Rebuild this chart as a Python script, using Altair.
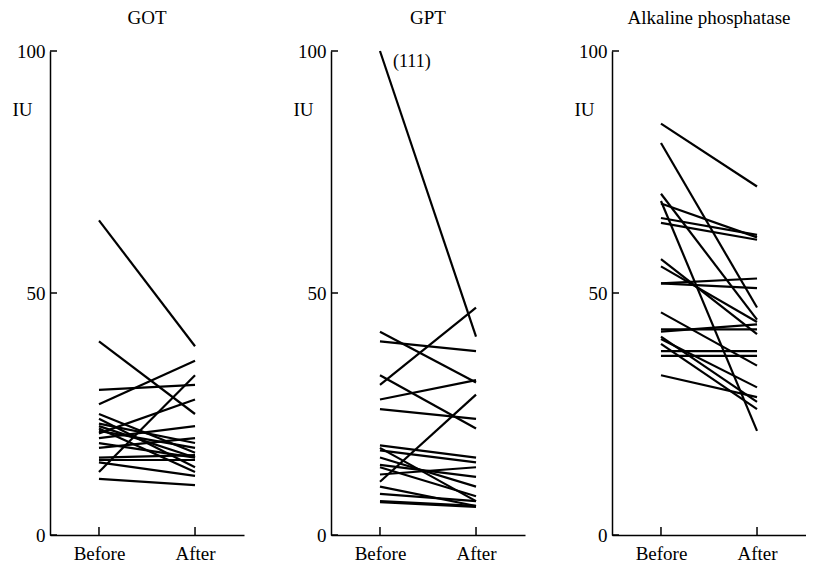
import altair as alt
import pandas as pd

categories = ["Before", "After"]
panel_titles = ["GOT", "GPT", "Alkaline phosphatase"]
y_ticks = [0, 50, 100]

got_before = [65, 40, 30, 27, 25, 24, 23, 22.5, 22, 21.5, 21, 20, 19, 18, 16, 15.5, 15, 13, 11.6]
got_after = [39, 25, 31, 36, 17, 14, 19, 16, 13, 18, 28, 22.5, 16, 20, 16.5, 15.5, 12.2, 33, 10.3]

gpt_before = [111, 42, 40, 33, 31, 28, 26, 18.5, 18, 17.5, 16, 14.5, 14, 12.5, 11, 10, 8.5, 7, 6.8]
gpt_after = [41, 31.5, 38, 22, 47, 32, 24, 16, 7, 15, 10, 12, 8, 14, 29, 6, 7, 6, 5.8]

alp_before = [85, 81, 70.5, 69, 68.5, 65.5, 64.5, 57, 55.5, 52, 52, 46, 42.5, 42, 41, 40.5, 39.5, 38, 37, 33]
alp_after = [72, 47, 44.5, 21.5, 61.5, 62, 61, 41.5, 44, 53, 51, 35, 42.5, 43.5, 27.5, 30.5, 26, 38, 37, 28.5]

FONT = "Liberation Serif"
FS = 19
W, H = 194, 484

def long_frame(before, after):
    rows = []
    for i, (b, a) in enumerate(zip(before, after)):
        rows.append({"id": i, "time": categories[0], "value": b})
        rows.append({"id": i, "time": categories[1], "value": a})
    return pd.DataFrame(rows)

def panel(title, before, after, note=None):
    df = long_frame(before, after)
    xs = alt.X("time:N", sort=categories,
               scale=alt.Scale(type="point", padding=0.51),
               axis=alt.Axis(title=None, labelAngle=0, ticks=False, labelPadding=9,
                             labelFont=FONT, labelFontSize=FS, labelColor="black",
                             domainColor="black", domainWidth=1.5))
    ys = alt.Y("plot:Q", scale=alt.Scale(domain=[0, 100], nice=False),
               axis=alt.Axis(values=y_ticks, ticks=False, labelPadding=5,
                             labelFont=FONT, labelFontSize=FS, labelColor="black",
                             domainColor="black", domainWidth=1.5,
                             title="IU", titleAngle=0, titleAlign="left",
                             titleBaseline="middle", titleX=-38, titleY=58,
                             titleFont=FONT, titleFontSize=FS,
                             titleFontWeight="normal", titleColor="black"))
    lines = alt.Chart(df).transform_calculate(
        plot="min(datum.value, 100)"
    ).mark_line(color="black", strokeWidth=2.2).encode(
        x=xs, y=ys, detail="id:N"
    )
    tick_df = pd.DataFrame({"plot": y_ticks})
    yt = alt.Chart(tick_df).mark_rule(color="black", strokeWidth=1.5).encode(
        y="plot:Q", x=alt.value(0), x2=alt.value(7)
    )
    xt = alt.Chart(pd.DataFrame({"time": categories})).mark_rule(
        color="black", strokeWidth=1.5
    ).encode(x=alt.X("time:N", sort=categories), y=alt.value(H), y2=alt.value(H - 8))
    layers = [lines, yt, xt]
    if note is not None:
        ndf = pd.DataFrame({"time": [categories[0]], "plot": [100], "label": [note]})
        nt = alt.Chart(ndf).mark_text(
            font=FONT, fontSize=18, align="left", baseline="middle",
            dx=13, dy=11, color="black"
        ).encode(x=alt.X("time:N", sort=categories), y="plot:Q", text="label:N")
        layers.append(nt)
    return alt.layer(*layers).properties(
        width=W, height=H,
        title=alt.TitleParams(title, font=FONT, fontSize=FS, fontWeight="normal",
                              color="black", anchor="middle", offset=14)
    )

p1 = panel(panel_titles[0], got_before, got_after)
p2 = panel(panel_titles[1], gpt_before, gpt_after, note="(111)")
p3 = panel(panel_titles[2], alp_before, alp_after)

chart = alt.hconcat(p1, p2, p3, spacing=49).configure_view(stroke=None).configure_axis(
    grid=False
).properties(background="white", padding={"left": 12, "top": 9, "right": 0, "bottom": 0})

chart.save("out.html", embed_options={"renderer": "svg", "actions": False})
